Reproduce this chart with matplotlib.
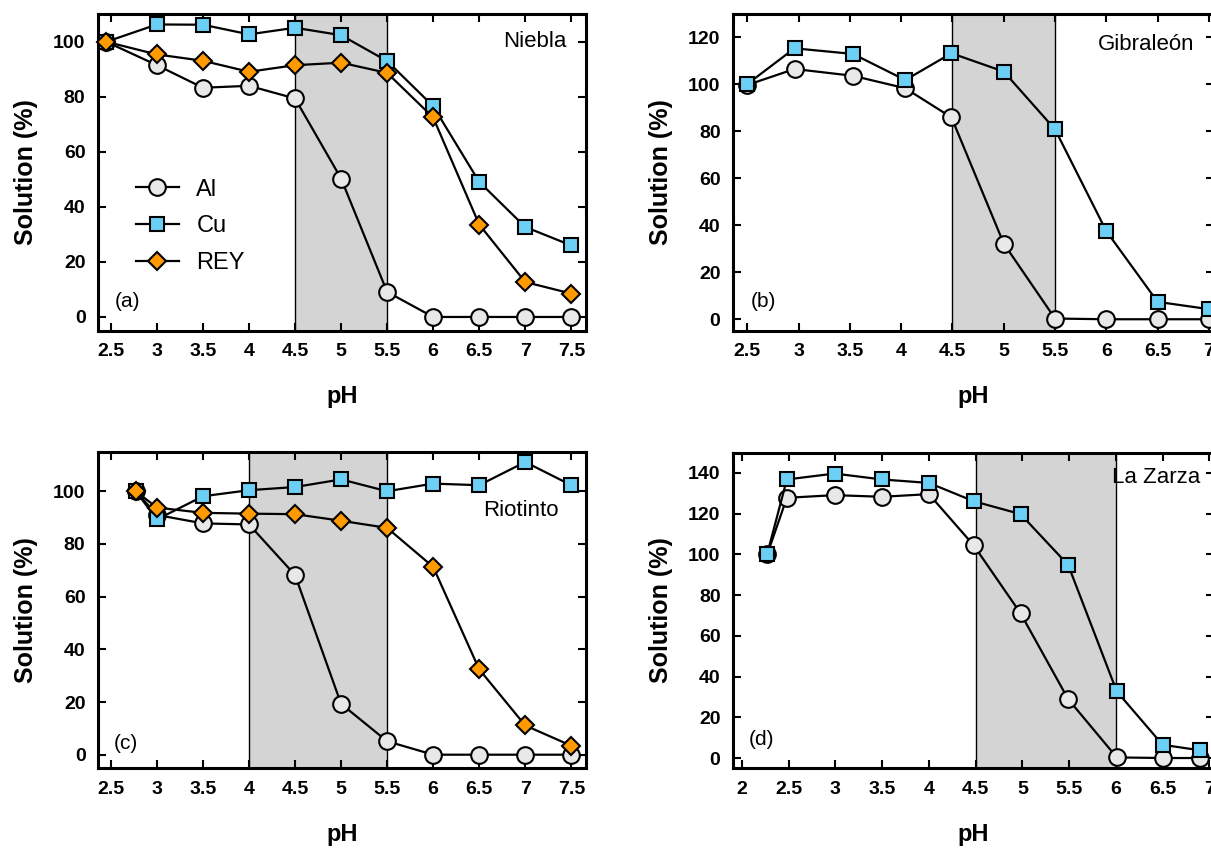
import numpy as np
import matplotlib.pyplot as plt

plt.rcParams['font.family'] = ['Liberation Sans', 'DejaVu Sans']

# (a) Niebla
ph_a = [2.45, 3, 3.5, 4, 4.5, 5, 5.5, 6, 6.5, 7, 7.5]
al_a = [100, 91.5, 83.3, 84, 79.4, 50.3, 9.1, 0, 0, 0, 0]
cu_a = [100, 106.3, 106.2, 102.7, 105.1, 102.4, 93, 76.6, 49.1, 32.7, 26]
rey_a = [100, 95.4, 93.1, 89.1, 91.5, 92.4, 88.7, 72.5, 33.6, 12.7, 8.5]

# (b) Gibraleón
ph_b = [2.5, 2.96, 3.53, 4.04, 4.49, 5.0, 5.5, 6.0, 6.5, 7.0]
al_b = [99.7, 106.5, 103.6, 98.3, 85.9, 32.2, 0.3, 0, 0, 0]
cu_b = [100.1, 115.3, 112.9, 101.8, 113.2, 105.4, 80.8, 37.5, 7.4, 4.3]

# (c) Riotinto
ph_c = [2.77, 3, 3.5, 4, 4.5, 5, 5.5, 6, 6.5, 7, 7.5]
al_c = [100, 91, 87.8, 87.4, 68.2, 19.3, 5.1, 0, 0, 0, 0]
cu_c = [100, 89.3, 98.1, 100.4, 101.6, 104.5, 100, 102.9, 102.3, 111.1, 102.3]
rey_c = [100, 93.8, 91.8, 91.5, 91.3, 88.8, 86.1, 71.3, 32.4, 11.1, 3.4]

# (d) La Zarza
ph_d = [2.27, 2.48, 2.99, 3.5, 4.0, 4.48, 4.98, 5.49, 6.01, 6.5, 6.9]
al_d = [100, 127.8, 129.1, 128.3, 129.6, 104.4, 71.1, 28.9, 0.3, 0, 0]
cu_d = [100.2, 136.8, 139.7, 136.8, 135.1, 126.1, 119.8, 94.8, 32.7, 6.5, 3.8]

W, H = 1211, 851
fig = plt.figure(figsize=(W / 100, H / 100), dpi=100)


def make_ax(left, top, right, bottom):
    return fig.add_axes([left / W, 1 - bottom / H, (right - left) / W, (bottom - top) / H])


def style(ax, xlim, ylim, xticks, yticks, shade):
    ax.axvspan(shade[0], shade[1], color='#d4d4d4', zorder=0, lw=0)
    for s in shade:
        ax.axvline(s, color='black', lw=1, zorder=1)
    ax.set_xticks(xticks)
    ax.set_xticklabels([('%g' % t) for t in xticks])
    ax.set_yticks(yticks)
    ax.set_xlim(xlim)
    ax.set_ylim(ylim)
    ax.tick_params(direction='in', top=True, right=True, length=6, width=1.5,
                   labelsize=14, pad=9)
    for lab in ax.get_xticklabels() + ax.get_yticklabels():
        lab.set_fontweight('bold')
    for sp in ax.spines.values():
        sp.set_linewidth(2.2)
    ax.set_xlabel('pH', fontsize=17, fontweight='bold', labelpad=18)
    ax.set_ylabel('Solution (%)', fontsize=18, fontweight='bold', labelpad=11)


def line(ax, x, y, kind, label=None):
    if kind == 'Al':
        ax.plot(x, y, '-o', color='black', lw=1.6, mfc='#e8e8e8', mec='black',
                mew=1.5, ms=12, zorder=3, label=label, clip_on=False)
    elif kind == 'Cu':
        ax.plot(x, y, '-s', color='black', lw=1.6, mfc='#6ccff6', mec='black',
                mew=1.5, ms=10.5, zorder=4, label=label, clip_on=False)
    else:
        ax.plot(x, y, '-D', color='black', lw=1.6, mfc='#ff9a00', mec='black',
                mew=1.5, ms=9, zorder=5, label=label, clip_on=False)


xt1 = [2.5, 3, 3.5, 4, 4.5, 5, 5.5, 6, 6.5, 7, 7.5]
xt2 = [2.5, 3, 3.5, 4, 4.5, 5, 5.5, 6, 6.5, 7]

ax1 = make_ax(98, 14, 586, 331)
style(ax1, (2.36, 7.66), (-5.1, 110.1), xt1, [0, 20, 40, 60, 80, 100], (4.5, 5.5))
line(ax1, ph_a, al_a, 'Al', 'Al')
line(ax1, ph_a, cu_a, 'Cu', 'Cu')
line(ax1, ph_a, rey_a, 'REY', 'REY')
ax1.text(7.45, 100, 'Niebla', fontsize=16, ha='right', va='center')
ax1.text(2.54, 5.5, '(a)', fontsize=15, ha='left', va='center')
ax1.legend(loc='center left', bbox_to_anchor=(0.078, 0.33), frameon=False,
           fontsize=17, handlelength=1.8, handletextpad=0.75, labelspacing=0.62,
           borderpad=0, borderaxespad=0)

ax2 = make_ax(733, 14, 1214, 331)
style(ax2, (2.36, 7.05), (-5, 129.9), xt2, [0, 20, 40, 60, 80, 100, 120], (4.5, 5.5))
line(ax2, ph_b, al_b, 'Al')
line(ax2, ph_b, cu_b, 'Cu')
ax2.text(6.86, 117, 'Gibraleón', fontsize=16, ha='right', va='center')
ax2.text(2.53, 7.4, '(b)', fontsize=15, ha='left', va='center')

ax3 = make_ax(98, 452, 586, 768)
style(ax3, (2.36, 7.66), (-5.05, 114.9), xt1, [0, 20, 40, 60, 80, 100], (4.0, 5.5))
line(ax3, ph_c, al_c, 'Al')
line(ax3, ph_c, cu_c, 'Cu')
line(ax3, ph_c, rey_c, 'REY')
ax3.text(7.36, 92.8, 'Riotinto', fontsize=16, ha='right', va='center')
ax3.text(2.53, 4.4, '(c)', fontsize=15, ha='left', va='center')

xt4 = [2, 2.5, 3, 3.5, 4, 4.5, 5, 5.5, 6, 6.5, 7]
ax4 = make_ax(733, 453, 1214, 768)
style(ax4, (1.904, 7.05), (-4.9, 149.8), xt4, [0, 20, 40, 60, 80, 100, 120, 140], (4.5, 6.0))
line(ax4, ph_d, al_d, 'Al')
line(ax4, ph_d, cu_d, 'Cu')
ax4.text(6.9, 138, 'La Zarza', fontsize=16, ha='right', va='center')
ax4.text(2.07, 9, '(d)', fontsize=15, ha='left', va='center')

fig.savefig('out.png', dpi=100)
